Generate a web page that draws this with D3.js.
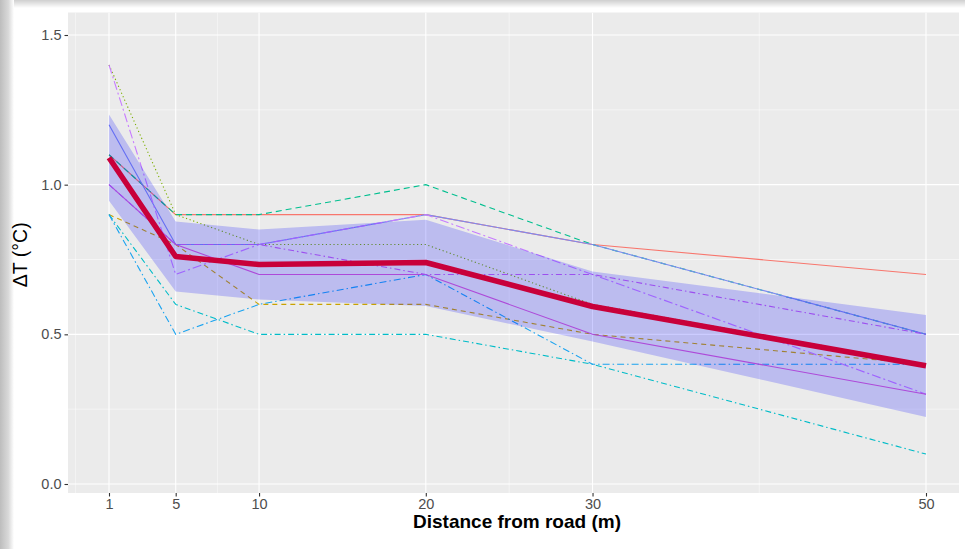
<!DOCTYPE html>
<html>
<head>
<meta charset="utf-8">
<script src="https://cdn.jsdelivr.net/npm/d3@7/dist/d3.min.js"></script>
<style>
  html, body { margin: 0; padding: 0; background: #ffffff; }
  svg { display: block; }
  text { font-family: "Liberation Sans", Arial, sans-serif; }
</style>
</head>
<body>
<svg id="chart" width="965" height="549"></svg>
<script>
// Distances from the road (m) at which temperature differences were measured
const distances = [1, 5, 10, 20, 30, 50];
const xTickValues = [1, 5, 10, 20, 30, 50];
const xMinorValues = [-1, 7.5, 25, 40];
const yTickValues = [0, 0.5, 1.0, 1.5];
const yMinorValues = [0.25, 0.75, 1.25];

// Individual transects, ΔT (°C) at each distance
const siteA = [1.1, 0.9, 0.9, 0.9, 0.8, 0.7];
const siteB = [1.1, 0.9, 0.9, 1.0, 0.8, 0.5];
const siteC = [1.4, 0.9, 0.8, 0.8, 0.6, 0.4];
const siteD = [0.9, 0.8, 0.6, 0.6, 0.5, 0.4];
const siteE = [0.9, 0.6, 0.5, 0.5, 0.4, 0.1];
const siteF = [0.9, 0.5, 0.6, 0.7, 0.4, 0.4];
const siteG = [1.2, 0.8, 0.8, 0.9, 0.8, 0.5];
const siteH = [1.4, 0.7, 0.8, 0.9, 0.7, 0.3];
const siteI = [1.0, 0.8, 0.7, 0.7, 0.5, 0.3];
const siteJ = [1.0, 0.8, 0.8, 0.7, 0.7, 0.5];

// Mean response and its confidence band
const meanDT = [1.09, 0.76, 0.733, 0.74, 0.593, 0.395];
const ciLower = [0.946, 0.643, 0.616, 0.595, 0.476, 0.224];
const ciUpper = [1.234, 0.877, 0.85, 0.883, 0.71, 0.565];

// Drawing styles for the transects (same order as the list below)
const sites = [siteA, siteB, siteC, siteD, siteE, siteF, siteG, siteH, siteI, siteJ];
const siteStyles = [
  { color: "#F8766D", dash: null },
  { color: "#00BF8F", dash: "6,4" },
  { color: "#7CAE00", dash: "1.2,2.6" },
  { color: "#C9A200", dash: "5,4" },
  { color: "#00BCC8", dash: "6,3,1.5,3" },
  { color: "#1AA3F0", dash: "7,3,1.5,3" },
  { color: "#7D8AF0", dash: null },
  { color: "#C77CFF", dash: "9,3,2,3" },
  { color: "#D95CD0", dash: null },
  { color: "#C463EC", dash: "6,3,1.5,3" }
];

const svg = d3.select("#chart");
const W = 965, H = 549;
const panel = { left: 68, right: 959, top: 12.5, bottom: 493 };

// Soft grey edge along the left and top of the figure
const defs = svg.append("defs");
const gl = defs.append("linearGradient").attr("id", "edgeL").attr("x1", 0).attr("x2", 1).attr("y1", 0).attr("y2", 0);
gl.append("stop").attr("offset", "0%").attr("stop-color", "#bdbdbd");
gl.append("stop").attr("offset", "60%").attr("stop-color", "#d9d9d9");
gl.append("stop").attr("offset", "100%").attr("stop-color", "#ffffff");
const gt = defs.append("linearGradient").attr("id", "edgeT").attr("x1", 0).attr("x2", 0).attr("y1", 0).attr("y2", 1);
gt.append("stop").attr("offset", "0%").attr("stop-color", "#cfcfcf");
gt.append("stop").attr("offset", "100%").attr("stop-color", "#ffffff");
svg.append("rect").attr("x", 0).attr("y", 0).attr("width", W).attr("height", 8).attr("fill", "url(#edgeT)");
svg.append("rect").attr("x", 0).attr("y", 0).attr("width", 14).attr("height", H).attr("fill", "url(#edgeL)");

defs.append("clipPath").attr("id", "panelClip")
  .append("rect")
  .attr("x", panel.left).attr("y", panel.top)
  .attr("width", panel.right - panel.left).attr("height", panel.bottom - panel.top);

// 1 m sits at x≈109 and 50 m at x≈926; 0 °C at y≈484 and 1.5 °C at y≈35
const x = d3.scaleLinear().domain([1, 50]).range([109, 926]);
const y = d3.scaleLinear().domain([0, 1.5]).range([484, 35]);

// Panel background
svg.append("rect")
  .attr("x", panel.left).attr("y", panel.top)
  .attr("width", panel.right - panel.left).attr("height", panel.bottom - panel.top)
  .attr("fill", "#EBEBEB");

const grid = svg.append("g").attr("clip-path", "url(#panelClip)");
// minor grid
grid.selectAll("line.ymin").data(yMinorValues).join("line")
  .attr("x1", panel.left).attr("x2", panel.right)
  .attr("y1", d => y(d)).attr("y2", d => y(d))
  .attr("stroke", "#ffffff").attr("stroke-width", 0.6).attr("opacity", 0.85);
grid.selectAll("line.xmin").data(xMinorValues).join("line")
  .attr("y1", panel.top).attr("y2", panel.bottom)
  .attr("x1", d => x(d)).attr("x2", d => x(d))
  .attr("stroke", "#ffffff").attr("stroke-width", 0.6).attr("opacity", 0.85);
// major grid
grid.selectAll("line.ymaj").data(yTickValues).join("line")
  .attr("x1", panel.left).attr("x2", panel.right)
  .attr("y1", d => y(d)).attr("y2", d => y(d))
  .attr("stroke", "#ffffff").attr("stroke-width", 1.1);
grid.selectAll("line.xmaj").data(xTickValues).join("line")
  .attr("y1", panel.top).attr("y2", panel.bottom)
  .attr("x1", d => x(d)).attr("x2", d => x(d))
  .attr("stroke", "#ffffff").attr("stroke-width", 1.1);

const plot = svg.append("g").attr("clip-path", "url(#panelClip)");

// Individual transects
const line = d3.line().x((d, i) => x(distances[i])).y(d => y(d));
sites.forEach((vals, k) => {
  const st = siteStyles[k];
  plot.append("path")
    .datum(vals)
    .attr("d", line)
    .attr("fill", "none")
    .attr("stroke", st.color)
    .attr("stroke-width", 1.1)
    .attr("stroke-dasharray", st.dash);
});

// Confidence band
const band = d3.area()
  .x((d, i) => x(distances[i]))
  .y0((d, i) => y(ciLower[i]))
  .y1((d, i) => y(ciUpper[i]));
plot.append("path")
  .datum(meanDT)
  .attr("d", band)
  .attr("fill", "#0000FF")
  .attr("fill-opacity", 0.2);

// Mean line
plot.append("path")
  .datum(meanDT)
  .attr("d", line)
  .attr("fill", "none")
  .attr("stroke", "#C8003A")
  .attr("stroke-width", 5.5)
  .attr("stroke-linejoin", "round");

// Axes
const xAxis = svg.append("g")
  .attr("transform", `translate(0,${panel.bottom})`)
  .call(d3.axisBottom(x).tickValues(xTickValues).tickSize(3.5).tickPadding(2).tickFormat(d3.format("d")));
const yAxis = svg.append("g")
  .attr("transform", `translate(${panel.left},0)`)
  .call(d3.axisLeft(y).tickValues(yTickValues).tickSize(3.5).tickPadding(3).tickFormat(d3.format(".1f")));
[xAxis, yAxis].forEach(a => {
  a.select(".domain").remove();
  a.selectAll(".tick line").attr("stroke", "#333333").attr("stroke-width", 1.1);
  a.selectAll(".tick text").attr("fill", "#4D4D4D").attr("font-size", 14.5)
    .attr("font-family", "'Liberation Sans', Arial, sans-serif");
});

// Axis titles
svg.append("text")
  .attr("x", 517)
  .attr("y", 528)
  .attr("text-anchor", "middle")
  .attr("font-size", 19)
  .attr("font-weight", "bold")
  .attr("fill", "#000000")
  .text("Distance from road (m)");

svg.append("text")
  .attr("transform", `translate(27,${(panel.top + panel.bottom) / 2 + 2}) rotate(-90)`)
  .attr("text-anchor", "middle")
  .attr("font-size", 19.5)
  .attr("fill", "#000000")
  .text("ΔT (°C)");
</script>
</body>
</html>
